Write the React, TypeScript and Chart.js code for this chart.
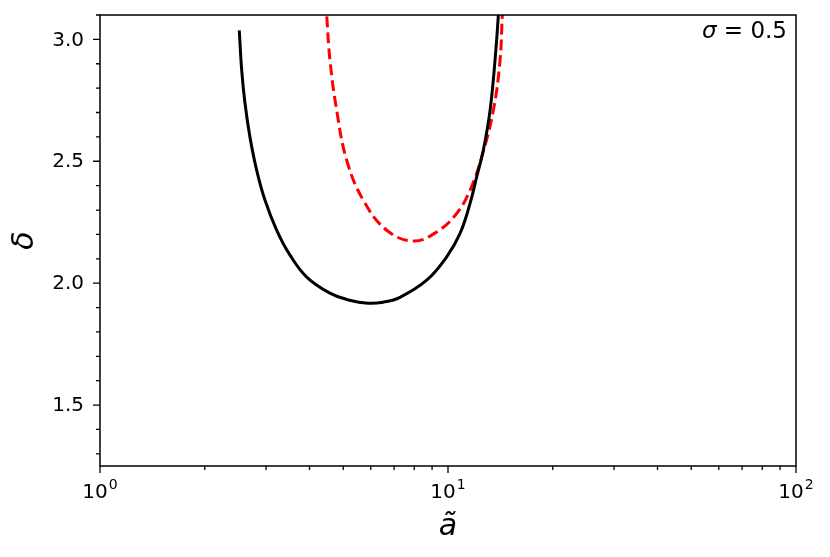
import React, { useEffect, useRef } from "react";
import { Chart, registerables } from "chart.js";

Chart.register(...registerables);

// Black solid curve
const aBlack = [2.513, 2.554, 2.61, 2.698, 2.82, 2.98, 3.22, 3.516, 3.926, 4.58, 5.215, 5.89, 6.505, 7.279, 8.685, 9.914, 10.83, 11.57, 12.09, 12.63, 13.21, 13.65, 13.95, 14.06];
const dBlack = [3.037, 2.873, 2.738, 2.598, 2.463, 2.34, 2.217, 2.115, 2.025, 1.959, 1.93, 1.918, 1.922, 1.942, 2.012, 2.108, 2.204, 2.327, 2.436, 2.545, 2.709, 2.914, 3.098, 3.221];

// Red dashed curve
const aRed = [4.45, 4.481, 4.58, 4.788, 5.116, 5.71, 6.667, 7.951, 9.28, 10.59, 11.57, 12.5, 13.5, 14.11, 14.32, 14.4];
const dRed = [3.16, 3.098, 2.914, 2.709, 2.504, 2.34, 2.217, 2.173, 2.21, 2.286, 2.381, 2.518, 2.709, 2.914, 3.098, 3.16];

const xMajor = [1, 10, 100];
const xExponents = ["0", "1", "2"];
const xMinor = [2, 3, 4, 5, 6, 7, 8, 9, 20, 30, 40, 50, 60, 70, 80, 90];
const yMajor = [1.5, 2.0, 2.5, 3.0];
const yMajorLabels = ["1.5", "2.0", "2.5", "3.0"];
const yMinor = [1.3, 1.4, 1.6, 1.7, 1.8, 1.9, 2.1, 2.2, 2.3, 2.4, 2.6, 2.7, 2.8, 2.9, 3.1];

const FONT = "'DejaVu Sans', sans-serif";

const decorPlugin = {
  id: "decor",
  afterDraw(chart: any) {
    const { ctx, chartArea } = chart;
    const { left, right, top, bottom } = chartArea;
    const xs = chart.scales.x;
    const ys = chart.scales.y;
    ctx.save();
    ctx.strokeStyle = "#000";
    ctx.lineWidth = 1.5;
    ctx.strokeRect(left, top, right - left, bottom - top);
    ctx.lineWidth = 1.3;
    ctx.beginPath();
    xMajor.forEach((v) => {
      const p = xs.getPixelForValue(v);
      ctx.moveTo(p, bottom);
      ctx.lineTo(p, bottom + 7);
    });
    xMinor.forEach((v) => {
      const p = xs.getPixelForValue(v);
      ctx.moveTo(p, bottom);
      ctx.lineTo(p, bottom + 4);
    });
    yMajor.forEach((v) => {
      const p = ys.getPixelForValue(v);
      ctx.moveTo(left, p);
      ctx.lineTo(left - 7, p);
    });
    yMinor.forEach((v) => {
      const p = ys.getPixelForValue(v);
      if (p < top - 0.5) return;
      ctx.moveTo(left, p);
      ctx.lineTo(left - 4, p);
    });
    ctx.stroke();

    ctx.fillStyle = "#000";
    // y tick labels
    ctx.font = `20px ${FONT}`;
    ctx.textAlign = "right";
    ctx.textBaseline = "middle";
    yMajor.forEach((v, i) => {
      ctx.fillText(yMajorLabels[i], left - 16, ys.getPixelForValue(v) + 1);
    });
    // x tick labels (10^n)
    ctx.textBaseline = "alphabetic";
    ctx.textAlign = "left";
    xMajor.forEach((v, i) => {
      const p = xs.getPixelForValue(v);
      ctx.font = `20px ${FONT}`;
      const w1 = ctx.measureText("10").width;
      ctx.font = `14px ${FONT}`;
      const w2 = ctx.measureText(xExponents[i]).width;
      const start = p - (w1 + w2 + 1) / 2;
      ctx.font = `20px ${FONT}`;
      ctx.fillText("10", start, 498);
      ctx.font = `14px ${FONT}`;
      ctx.fillText(xExponents[i], start + w1 + 1, 489);
    });
    // y title
    ctx.save();
    ctx.translate(25, (top + bottom) / 2);
    ctx.rotate(-Math.PI / 2);
    ctx.font = `italic 30px ${FONT}`;
    ctx.textAlign = "center";
    ctx.textBaseline = "middle";
    ctx.fillText("\u03B4", 0, 0);
    ctx.restore();
    // x title
    ctx.font = `italic 30px ${FONT}`;
    ctx.textAlign = "center";
    ctx.textBaseline = "alphabetic";
    ctx.fillText("\u00E3", (left + right) / 2, 535);
    // sigma annotation
    ctx.font = `23px ${FONT}`;
    ctx.textAlign = "right";
    const rest = " = 0.5";
    ctx.fillText(rest, right - 9, 38);
    const w = ctx.measureText(rest).width;
    ctx.font = `italic 23px ${FONT}`;
    ctx.fillText("\u03C3", right - 9 - w, 38);
    ctx.restore();
  },
};

export default function App() {
  const ref = useRef<HTMLCanvasElement>(null);
  useEffect(() => {
    document.body.style.margin = "0";
    const black = aBlack.map((x, i) => ({ x, y: dBlack[i] }));
    const red = aRed.map((x, i) => ({ x, y: dRed[i] }));
    const zeroPad = (s: any) => {
      s.paddingTop = 0;
      s.paddingBottom = 0;
      s.paddingLeft = 0;
      s.paddingRight = 0;
    };
    const chart = new Chart(ref.current!, {
      type: "line",
      data: {
        datasets: [
          {
            data: black,
            borderColor: "#000",
            borderWidth: 3,
            pointRadius: 0,
            fill: false,
            tension: 0.4,
          },
          {
            data: red,
            borderColor: "#ff0000",
            borderWidth: 3,
            borderDash: [11, 5],
            pointRadius: 0,
            fill: false,
            tension: 0.4,
          },
        ],
      },
      options: {
        animation: false,
        responsive: false,
        devicePixelRatio: 1,
        layout: { padding: { left: 0, right: 34, top: 15, bottom: 0 } },
        plugins: { legend: { display: false }, tooltip: { enabled: false } },
        scales: {
          x: {
            type: "logarithmic",
            min: 1,
            max: 100,
            grid: { display: false },
            border: { display: false },
            ticks: { display: false },
            afterFit: (s: any) => {
              s.height = 91;
              zeroPad(s);
            },
          },
          y: {
            type: "linear",
            min: 1.25,
            max: 3.1,
            grid: { display: false },
            border: { display: false },
            ticks: { display: false },
            afterFit: (s: any) => {
              s.width = 100;
              zeroPad(s);
            },
          },
        },
      },
      plugins: [decorPlugin],
    } as any);
    return () => chart.destroy();
  }, []);
  return (
    <div style={{ width: 830, height: 557 }}>
      <canvas ref={ref} width={830} height={557} />
    </div>
  );
}
